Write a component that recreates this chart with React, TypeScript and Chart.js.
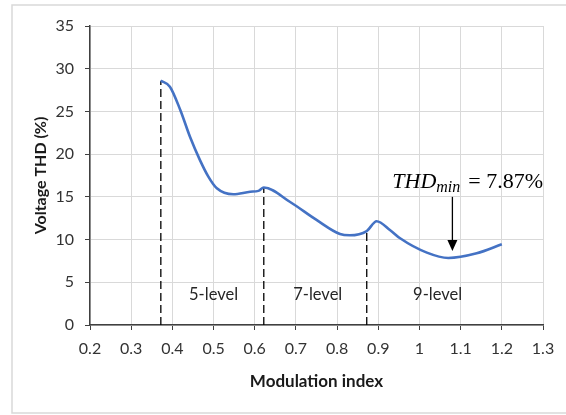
import React, { useEffect, useRef } from 'react';
import { Chart, registerables } from 'chart.js';

Chart.register(...registerables);

// Modulation index (x) and voltage THD in % (y)
const modulationIndex = [
  0.372, 0.394, 0.419, 0.443, 0.467, 0.487, 0.508, 0.548, 0.589, 0.609, 0.622,
  0.686, 0.75, 0.807, 0.831, 0.872, 0.896, 0.929, 0.953, 1.018, 1.07, 1.139, 1.2,
];
const thdPercent = [
  28.6, 27.9, 25.2, 22.0, 19.3, 17.4, 16.0, 15.3, 15.6, 15.7, 16.1,
  14.4, 12.3, 10.65, 10.5, 11.0, 12.15, 11.1, 10.15, 8.47, 7.85, 8.4, 9.45,
];

// Boundaries between level regions (dashed lines)
const boundaryX = [0.372, 0.622, 0.872];
const boundaryTop = [28.6, 16.1, 11.0];

// Region labels
const levelLabels = ['5-level', '7-level', '9-level'];
const levelLabelX = [0.5, 0.753, 1.044];
const levelLabelY = 3.6;

// Minimum THD annotation
const thdMinValue = '7.87%';
const thdMinX = 1.08;
const thdMinTextX = 0.934;
const thdMinTextY = 16.05;
const arrowStartY = 15.0;
const arrowTipY = 8.65;

// Axis ranges and ticks
const xMin = 0.2;
const xMax = 1.3;
const xStep = 0.1;
const yMin = 0;
const yMax = 35;
const yStep = 5;

const axisTitleX = 'Modulation index';
const axisTitleY = 'Voltage THD (%)';

const FONT = 'Lato, "Open Sans", "Noto Sans", sans-serif';

const frameAndAnnotations = {
  id: 'frameAndAnnotations',
  beforeDraw(chart: any) {
    const { ctx, width, height } = chart;
    ctx.save();
    ctx.fillStyle = '#ffffff';
    ctx.fillRect(0, 0, width, height);
    ctx.strokeStyle = '#d9d9d9';
    ctx.lineWidth = 1.5;
    ctx.strokeRect(12, 5, width + 10, 408);
    ctx.restore();
  },
  afterDatasetsDraw(chart: any) {
    const { ctx } = chart;
    const xs = chart.scales.x;
    const ys = chart.scales.y;
    ctx.save();
    // level labels
    ctx.fillStyle = '#262626';
    ctx.font = `16.5px ${FONT}`;
    ctx.textAlign = 'center';
    ctx.textBaseline = 'middle';
    levelLabels.forEach((t, i) => {
      ctx.fillText(t, xs.getPixelForValue(levelLabelX[i]), ys.getPixelForValue(levelLabelY));
    });

    // THD_min = 7.87%
    const tx = xs.getPixelForValue(thdMinTextX);
    const ty = ys.getPixelForValue(thdMinTextY);
    ctx.textAlign = 'left';
    ctx.textBaseline = 'alphabetic';
    ctx.fillStyle = '#000000';
    ctx.font = 'italic 22px "Liberation Serif", "DejaVu Serif", serif';
    ctx.fillText('THD', tx, ty);
    let cx = tx + ctx.measureText('THD').width;
    ctx.font = 'italic 16px "Liberation Serif", "DejaVu Serif", serif';
    ctx.fillText('min', cx, ty + 4);
    cx += ctx.measureText('min').width + 8;
    ctx.font = '22px "Liberation Serif", "DejaVu Serif", serif';
    ctx.fillText('= ' + thdMinValue, cx, ty);

    // arrow
    const ax = xs.getPixelForValue(thdMinX);
    const ay0 = ys.getPixelForValue(arrowStartY);
    const ay1 = ys.getPixelForValue(arrowTipY);
    ctx.strokeStyle = '#000000';
    ctx.lineWidth = 1.3;
    ctx.beginPath();
    ctx.moveTo(ax, ay0);
    ctx.lineTo(ax, ay1 - 8);
    ctx.stroke();
    ctx.beginPath();
    ctx.moveTo(ax, ay1);
    ctx.lineTo(ax - 5, ay1 - 11);
    ctx.lineTo(ax + 5, ay1 - 11);
    ctx.closePath();
    ctx.fill();
    ctx.restore();
  },
};

export default function App() {
  const canvasRef = useRef<HTMLCanvasElement | null>(null);

  useEffect(() => {
    if (!canvasRef.current) return;
    const mainData = modulationIndex.map((x, i) => ({ x, y: thdPercent[i] }));
    const dashedSets = boundaryX.map((bx, i) => ({
      type: 'line' as const,
      data: [
        { x: bx, y: 0 },
        { x: bx, y: boundaryTop[i] },
      ],
      borderColor: '#000000',
      borderWidth: 1.3,
      borderDash: [8, 4],
      pointRadius: 0,
      fill: false,
    }));

    const chart = new Chart(canvasRef.current, {
      type: 'line',
      data: {
        datasets: [
          {
            data: mainData,
            borderColor: '#4472C4',
            borderWidth: 2.6,
            pointRadius: 0,
            cubicInterpolationMode: 'monotone',
            fill: false,
          },
          ...dashedSets,
        ] as any,
      },
      options: {
        animation: false,
        responsive: false,
        devicePixelRatio: 1,
        layout: { padding: { top: 26, right: 23, left: 0, bottom: 0 } },
        plugins: {
          legend: { display: false },
          tooltip: { enabled: false },
        },
        scales: {
          x: {
            type: 'linear',
            min: xMin,
            max: xMax,
            afterFit(scale: any) {
              scale.height = 90;
            },
            ticks: {
              stepSize: xStep,
              color: '#333333',
              font: { family: FONT, size: 16 },
              padding: 9,
              maxRotation: 0,
              callback: (v: any) => String(Math.round(Number(v) * 10) / 10),
            },
            grid: { color: '#d9d9d9', lineWidth: 1, tickColor: '#404040', tickLength: 5 },
            border: { color: '#404040', width: 1.5 },
            title: {
              display: true,
              text: axisTitleX,
              color: '#1a1a1a',
              font: { family: FONT, size: 17, weight: 'bold' },
              padding: { top: 0, bottom: 23 },
            },
          },
          y: {
            type: 'linear',
            min: yMin,
            max: yMax,
            afterFit(scale: any) {
              scale.width = 90;
            },
            ticks: {
              stepSize: yStep,
              color: '#333333',
              font: { family: FONT, size: 16 },
              padding: 11,
            },
            grid: { color: '#d9d9d9', lineWidth: 1, tickColor: '#404040', tickLength: 5 },
            border: { color: '#404040', width: 1.5 },
            title: {
              display: true,
              text: axisTitleY,
              color: '#1a1a1a',
              font: { family: FONT, size: 16, weight: 'bold' },
              padding: { top: 31, bottom: 0 },
            },
          },
        },
      },
      plugins: [frameAndAnnotations],
    });
    return () => chart.destroy();
  }, []);

  return (
    <div style={{ position: 'fixed', left: 0, top: 0, width: 566, height: 415 }}>
      <canvas ref={canvasRef} width={566} height={415} style={{ width: 566, height: 415 }} />
    </div>
  );
}
